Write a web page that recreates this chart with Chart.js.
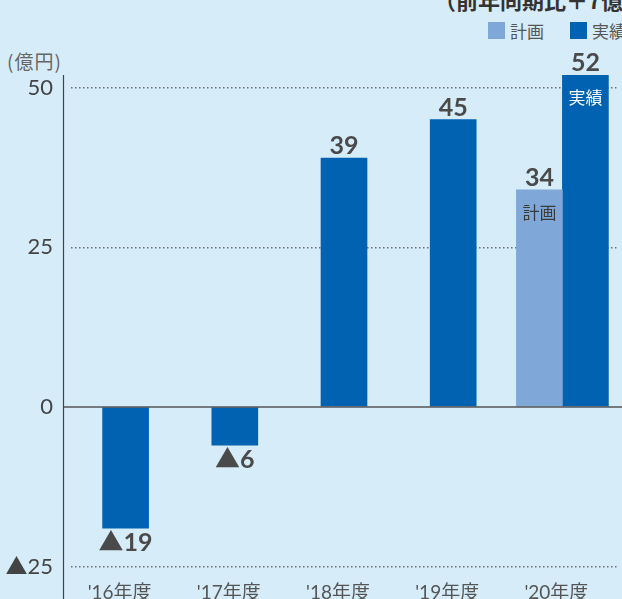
<!DOCTYPE html>
<html lang="ja">
<head>
<meta charset="utf-8">
<script src="https://cdn.jsdelivr.net/npm/chart.js@4.4.1/dist/chart.umd.min.js"></script>
<style>
  body {
    margin: 0;
    width: 622px;
    height: 599px;
    overflow: hidden;
    position: relative;
    background: #d6ecf9;
    font-family: Lato, "Noto Sans CJK JP", sans-serif;
  }
  #title {
    position: absolute;
    left: 434px;
    top: -12px;
    font-family: "Noto Sans CJK JP", sans-serif;
    font-size: 22px;
    line-height: 22px;
    font-weight: bold;
    color: #333;
    white-space: nowrap;
  }
  #legend {
    position: absolute;
    left: 488px;
    top: 22px;
    display: flex;
    white-space: nowrap;
    font-family: "Noto Sans CJK JP", sans-serif;
    font-size: 17px;
    line-height: 17px;
    color: #555;
  }
  #legend .item { display: flex; align-items: center; margin-right: 26px; }
  #legend .box { width: 17px; height: 17px; margin-right: 5px; }
  #unit {
    position: absolute;
    left: 7px;
    top: 51px;
    font-family: "Noto Sans CJK JP", sans-serif;
    font-size: 19px;
    line-height: 19px;
    letter-spacing: 1px;
    color: #666;
    white-space: nowrap;
  }
  #wrap {
    position: absolute;
    left: 0;
    top: 0;
    width: 622px;
    height: 613px;
  }
</style>
</head>
<body>
<div id="title">（前年同期比＋7億円）</div>
<div id="legend"></div>
<div id="unit">(億円)</div>
<div id="wrap"><canvas id="chart"></canvas></div>
<script>
const categories = ["'16年度", "'17年度", "'18年度", "'19年度", "'20年度"];
const planValues = [null, null, null, null, 34];
const actualValues = [-19, -6, 39, 45, 52];
const yTicks = [-25, 0, 25, 50];

const planColor = "#7fa8d9";
const actualColor = "#0062b0";

Chart.defaults.font.family = 'Lato, "Noto Sans CJK JP", sans-serif';

// minus values are written with a triangle in the original
function fmt(v) {
  return v < 0 ? "▲" + Math.abs(v) : String(v);
}

// vertical axis line sits a little left of the plot, zero line runs to the edge
const axisLines = {
  id: "axisLines",
  afterDatasetsDraw(chart) {
    const ctx = chart.ctx;
    const area = chart.chartArea;
    const y0 = chart.scales.y.getPixelForValue(0);
    const xAxis = area.left - 7.5;
    ctx.save();
    ctx.strokeStyle = "#555";
    ctx.lineWidth = 1.5;
    ctx.beginPath();
    ctx.moveTo(xAxis, y0);
    ctx.lineTo(chart.width, y0);
    ctx.stroke();
    ctx.strokeStyle = "#444";
    ctx.lineWidth = 1.2;
    ctx.beginPath();
    ctx.moveTo(xAxis, area.top);
    ctx.lineTo(xAxis, chart.height);
    ctx.stroke();
    ctx.restore();
  }
};

const barLabels = {
  id: "barLabels",
  afterDraw(chart) {
    const ctx = chart.ctx;
    ctx.save();
    ctx.textAlign = "center";
    ctx.textBaseline = "alphabetic";
    chart.data.datasets.forEach((ds, di) => {
      const meta = chart.getDatasetMeta(di);
      meta.data.forEach((bar, i) => {
        const v = ds.data[i];
        if (v === null) return;
        ctx.fillStyle = "#4a4a4a";
        ctx.font = 'bold 25px Lato, "Noto Sans CJK JP", sans-serif';
        if (v >= 0) {
          ctx.fillText(fmt(v), bar.x, bar.y - 4);
        } else {
          ctx.fillText(fmt(v), bar.x, bar.y + 23);
        }
        // series name inside the last pair of bars
        if (i === categories.length - 1) {
          ctx.fillStyle = ds.textColor;
          ctx.font = '17px "Noto Sans CJK JP", sans-serif';
          ctx.fillText(ds.label, bar.x, bar.y + 29);
        }
      });
    });
    ctx.restore();
  }
};

const chart = new Chart(document.getElementById("chart"), {
  type: "bar",
  data: {
    labels: categories,
    datasets: [
      { label: "計画", data: planValues, backgroundColor: planColor, textColor: "#3a3a3a" },
      { label: "実績", data: actualValues, backgroundColor: actualColor, textColor: "#fff" }
    ]
  },
  options: {
    responsive: true,
    maintainAspectRatio: false,
    animation: false,
    layout: { padding: { top: 75, right: 5, bottom: 3, left: 0 } },
    datasets: { bar: { barThickness: 46, skipNull: true } },
    plugins: {
      legend: { display: false },
      tooltip: { enabled: false }
    },
    scales: {
      x: {
        grid: { display: false, drawTicks: false },
        border: { display: false },
        ticks: {
          color: "#555",
          font: { size: 19 },
          padding: 0,
          labelOffset: -6,
          maxRotation: 0,
          autoSkip: false
        }
      },
      y: {
        min: -27.4,
        max: 52,
        afterFit(scale) { scale.width = 71; },
        afterBuildTicks(scale) { scale.ticks = yTicks.map(v => ({ value: v })); },
        grid: {
          color: c => (c.tick && c.tick.value === 0 ? "rgba(0,0,0,0)" : "#707070"),
          lineWidth: 1.5,
          drawTicks: false
        },
        border: { display: false, dash: [1.5, 2.5] },
        ticks: {
          color: "#444",
          font: { size: 22 },
          padding: 18,
          callback: v => fmt(v)
        }
      }
    }
  },
  plugins: [axisLines, barLabels]
});

// html legend built from the datasets
const legend = document.getElementById("legend");
chart.data.datasets.forEach(ds => {
  const item = document.createElement("div");
  item.className = "item";
  const box = document.createElement("span");
  box.className = "box";
  box.style.background = ds.backgroundColor;
  const text = document.createElement("span");
  text.textContent = ds.label;
  item.appendChild(box);
  item.appendChild(text);
  legend.appendChild(item);
});
</script>
</body>
</html>
